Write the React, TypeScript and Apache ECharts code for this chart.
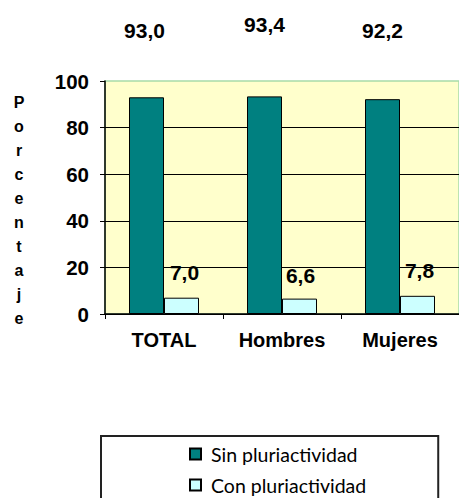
import React, { useEffect, useRef } from "react";
import * as echarts from "echarts";

const categories = ["TOTAL", "Hombres", "Mujeres"];
const sinPluri = [93.0, 93.4, 92.2];
const conPluri = [7.0, 6.6, 7.8];
const seriesNames = ["Sin pluriactividad", "Con pluriactividad"];
const yTicks = { min: 0, max: 100, interval: 20 };
const axisTitle = "Porcentaje";

const fmt = (v: number) => v.toFixed(1).replace(".", ",");

export default function App() {
  const ref = useRef<HTMLDivElement>(null);
  useEffect(() => {
    if (!ref.current) return;
    const chart = echarts.init(ref.current, null, { renderer: "svg" });
    const font = "'Liberation Sans', Arial, sans-serif";
    const sinOffsets = [[-2, -51], [0, -56], [0, -53]];
    const conOffsets = [[3, -10], [1, -8], [2, -10]];
    chart.setOption({
      animation: false,
      grid: {
        left: 105,
        top: 81,
        bottom: 184,
        right: -9,
        show: true,
        backgroundColor: "#FFFFCC",
        borderWidth: 1.5,
        borderColor: "#A8DCA8",
      },
      xAxis: {
        type: "category",
        data: categories,
        axisLine: { show: true, lineStyle: { color: "#000", width: 1.5 } },
        axisTick: { show: true, length: 5, lineStyle: { color: "#000" } },
        axisLabel: { color: "#000", fontFamily: font, fontWeight: "bold", fontSize: 20, margin: 16 },
      },
      yAxis: {
        type: "value",
        min: yTicks.min,
        max: yTicks.max,
        interval: yTicks.interval,
        axisLine: { show: true, lineStyle: { color: "#000", width: 1.5 } },
        axisTick: { show: true, length: 5, lineStyle: { color: "#000" } },
        axisLabel: { color: "#000", fontFamily: font, fontWeight: "bold", fontSize: 20.5, margin: 16 },
        splitLine: {
          show: true,
          showMaxLine: false,
          lineStyle: { color: "#000", width: 1.2 },
        },
      },
      legend: {
        orient: "vertical",
        left: 101,
        top: 436,
        height: 120,
        data: seriesNames,
        itemWidth: 11,
        itemHeight: 11,
        itemGap: 11,
        icon: "rect",
        borderColor: "#222",
        borderWidth: 2,
        padding: [8, 72, 30, 88],
        textStyle: {
          fontFamily: "Lato, sans-serif",
          fontSize: 19.5,
          color: "#000",
          lineHeight: 18,
          padding: [0, 0, 0, 5],
        },
      },
      graphic: [
        {
          type: "text",
          x: 19,
          y: 210,
          style: {
            text: axisTitle.split("").join("\n"),
            fontFamily: font,
            fontWeight: "bold",
            fontSize: 16,
            lineHeight: 24,
            fill: "#000",
            align: "center",
            verticalAlign: "middle",
          },
        },
      ],
      series: [
        {
          name: seriesNames[0],
          type: "bar",
          data: sinPluri.map((v, i) => ({
            value: v,
            label: { offset: sinOffsets[i] },
          })),
          barWidth: 35,
          barGap: "0%",
          itemStyle: { color: "#008080", borderColor: "#000", borderWidth: 1 },
          label: {
            show: true,
            position: "top",
            formatter: (p: any) => fmt(p.value),
            fontFamily: font,
            fontWeight: "bold",
            fontSize: 21,
            color: "#000",
          },
        },
        {
          name: seriesNames[1],
          type: "bar",
          data: conPluri.map((v, i) => ({
            value: v,
            label: { offset: conOffsets[i] },
          })),
          barWidth: 35,
          barGap: "0%",
          itemStyle: { color: "#CCFFFF", borderColor: "#000", borderWidth: 1 },
          label: {
            show: true,
            position: "top",
            formatter: (p: any) => fmt(p.value),
            fontFamily: font,
            fontWeight: "bold",
            fontSize: 21,
            color: "#000",
          },
        },
      ],
    });
    return () => chart.dispose();
  }, []);
  return (
    <div
      ref={ref}
      style={{ position: "fixed", left: 0, top: 0, width: 459, height: 498, background: "#fff" }}
    />
  );
}
